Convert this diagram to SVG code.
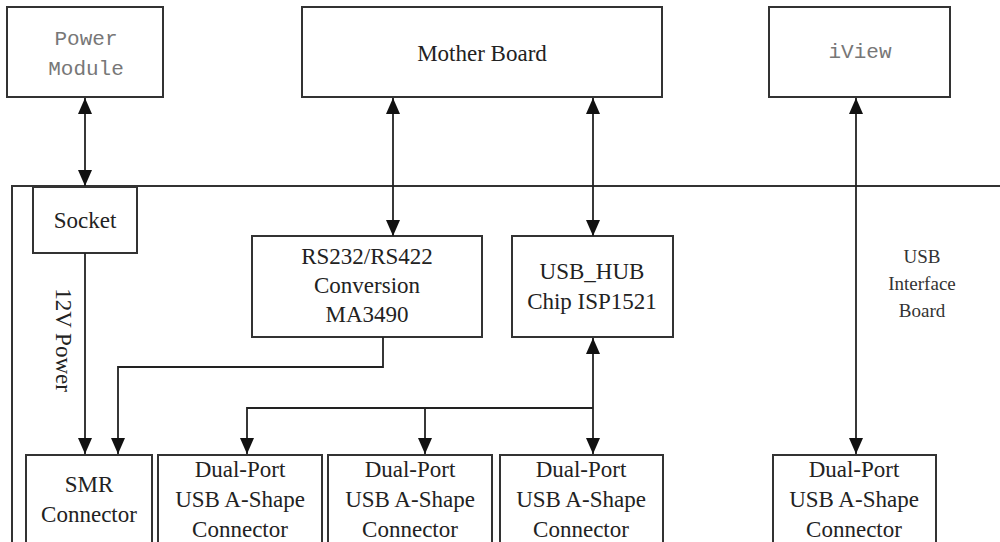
<svg xmlns="http://www.w3.org/2000/svg" width="1000" height="542" viewBox="0 0 1000 542">
<style>
.box{fill:#fff;stroke:#333;stroke-width:2}
.ln{fill:none;stroke:#222;stroke-width:1.8}
.t{font-family:"Liberation Serif","Times New Roman",serif;font-size:23px;fill:#222;text-anchor:middle}
.g{font-family:"Liberation Mono","Courier New",monospace;font-size:21px;fill:#777;text-anchor:middle}
.s{font-family:"Liberation Serif","Times New Roman",serif;font-size:19px;fill:#333;text-anchor:middle}
</style>
<defs>
<marker id="ah" viewBox="0 0 16 14" refX="16" refY="7" markerWidth="16" markerHeight="14" markerUnits="userSpaceOnUse" orient="auto-start-reverse">
<path d="M0,0 L16,7 L0,14 Z" fill="#111"/>
</marker>
</defs>
<rect x="0" y="0" width="1000" height="542" fill="#fff"/>
<rect id="frame" x="12" y="186" width="1000" height="400" fill="none" stroke="#333" stroke-width="2"/>
<g id="power-module"><rect class="box" x="7" y="7" width="156" height="90"/><text class="g" x="86" y="45">Power</text><text class="g" x="86" y="75">Module</text></g>
<g id="mother-board"><rect class="box" x="302" y="7" width="360" height="90"/><text class="t" x="482" y="61" font-size="24">Mother Board</text></g>
<g id="iview"><rect class="box" x="769" y="7" width="181" height="90"/><text class="g" x="860" y="58">iView</text></g>
<g id="socket"><rect class="box" x="33" y="187" width="104" height="66"/><text class="t" x="85" y="228">Socket</text></g>
<g id="rs232"><rect class="box" x="252" y="236" width="230" height="101"/><text class="t" x="367" y="264">RS232/RS422</text><text class="t" x="367" y="293">Conversion</text><text class="t" x="367" y="322">MA3490</text></g>
<g id="usb-hub"><rect class="box" x="512" y="236" width="161" height="101"/><text class="t" x="592" y="279">USB_HUB</text><text class="t" x="592" y="309">Chip ISP1521</text></g>
<g id="smr"><rect class="box" x="26" y="455" width="126" height="100"/><text class="t" x="89" y="492">SMR</text><text class="t" x="89" y="522">Connector</text></g>
<g id="dp1"><rect class="box" x="158" y="455" width="164" height="100"/><text class="t" x="240" y="477">Dual-Port</text><text class="t" x="240" y="507">USB A-Shape</text><text class="t" x="240" y="537">Connector</text></g>
<g id="dp2"><rect class="box" x="328" y="455" width="164" height="100"/><text class="t" x="410" y="477">Dual-Port</text><text class="t" x="410" y="507">USB A-Shape</text><text class="t" x="410" y="537">Connector</text></g>
<g id="dp3"><rect class="box" x="500" y="455" width="163" height="100"/><text class="t" x="581" y="477">Dual-Port</text><text class="t" x="581" y="507">USB A-Shape</text><text class="t" x="581" y="537">Connector</text></g>
<g id="dp5"><rect class="box" x="773" y="455" width="163" height="100"/><text class="t" x="854" y="477">Dual-Port</text><text class="t" x="854" y="507">USB A-Shape</text><text class="t" x="854" y="537">Connector</text></g>
<g id="labels">
<text class="t" transform="translate(56,340) rotate(90)">12V Power</text>
<text class="s" x="922" y="263">USB</text><text class="s" x="922" y="290">Interface</text><text class="s" x="922" y="317">Board</text>
</g>
<g id="connectors">
<line class="ln" x1="85" y1="98" x2="85" y2="186" marker-start="url(#ah)" marker-end="url(#ah)"/>
<line class="ln" x1="393" y1="98" x2="393" y2="236" marker-start="url(#ah)" marker-end="url(#ah)"/>
<line class="ln" x1="593" y1="98" x2="593" y2="236" marker-start="url(#ah)" marker-end="url(#ah)"/>
<line class="ln" x1="856" y1="98" x2="856" y2="454" marker-start="url(#ah)" marker-end="url(#ah)"/>
<line class="ln" x1="85" y1="253" x2="85" y2="454" marker-end="url(#ah)"/>
<polyline class="ln" points="383,337 383,367 118,367 118,454" marker-end="url(#ah)"/>
<line class="ln" x1="593" y1="338" x2="593" y2="454" marker-start="url(#ah)" marker-end="url(#ah)"/>
<polyline class="ln" points="593,408 247,408 247,454" marker-end="url(#ah)"/>
<line class="ln" x1="425" y1="408" x2="425" y2="454" marker-end="url(#ah)"/>
</g>
</svg>
